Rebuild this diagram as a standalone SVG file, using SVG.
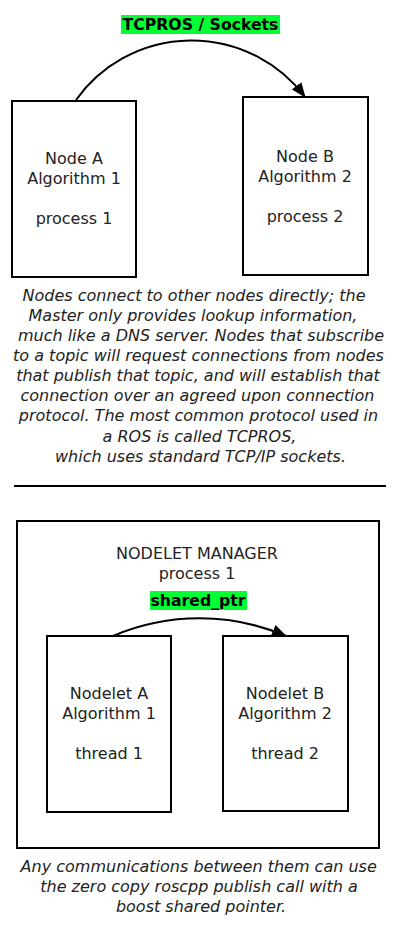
<svg xmlns="http://www.w3.org/2000/svg" width="407" height="934" viewBox="0 0 407 934">
<style>
.box{fill:#fff;stroke:#000;stroke-width:2}
.t{font-family:"DejaVu Sans",sans-serif;font-size:16px;fill:#222;text-anchor:middle}
.i{font-family:"DejaVu Sans",sans-serif;font-size:16px;font-style:italic;fill:#222;text-anchor:middle}
.b{font-family:"DejaVu Sans",sans-serif;font-size:15.7px;font-weight:bold;fill:#000;text-anchor:middle}
.lbl{fill:#00ff33}
.edge{fill:none;stroke:#000;stroke-width:2}
</style>
<defs>
<marker id="ah" markerUnits="userSpaceOnUse" markerWidth="16" markerHeight="12" refX="14" refY="6" orient="auto">
<path d="M0,0 L15,6 L0,12 z" fill="#000"/>
</marker>
</defs>
<rect width="407" height="934" fill="#fff"/>

<g id="nodeA">
<rect class="box" x="12" y="101" width="124" height="176"/>
<text class="t" x="74" y="164">Node A</text>
<text class="t" x="74" y="184">Algorithm 1</text>
<text class="t" x="74" y="224">process 1</text>
</g>
<g id="nodeB">
<rect class="box" x="243" y="97" width="125" height="178"/>
<text class="t" x="305" y="162">Node B</text>
<text class="t" x="305" y="182">Algorithm 2</text>
<text class="t" x="305" y="222">process 2</text>
</g>

<g id="desc1">
<text class="i" x="194" y="301">Nodes connect to other nodes directly; the</text>
<text class="i" x="193" y="321">Master only provides lookup information,</text>
<text class="i" x="201" y="341">much like a DNS server. Nodes that subscribe</text>
<text class="i" x="198.5" y="361">to a topic will request connections from nodes</text>
<text class="i" x="198" y="381">that publish that topic, and will establish that</text>
<text class="i" x="197.5" y="401">connection over an agreed upon connection</text>
<text class="i" x="198.5" y="421">protocol. The most common protocol used in</text>
<text class="i" x="199.5" y="442">a ROS is called TCPROS,</text>
<text class="i" x="200.5" y="462">which uses standard TCP/IP sockets.</text>
</g>

<line x1="14" y1="486" x2="386" y2="486" stroke="#000" stroke-width="2"/>

<g id="manager">
<rect class="box" x="17" y="521" width="362" height="327"/>
<text class="t" x="197" y="559">NODELET MANAGER</text>
<text class="t" x="197" y="579">process 1</text>
</g>
<g id="nodeletA">
<rect class="box" x="47" y="636" width="124" height="176"/>
<text class="t" x="109" y="699">Nodelet A</text>
<text class="t" x="109" y="719">Algorithm 1</text>
<text class="t" x="109" y="759">thread 1</text>
</g>
<g id="nodeletB">
<rect class="box" x="223" y="636" width="125" height="175"/>
<text class="t" x="285" y="699">Nodelet B</text>
<text class="t" x="285" y="719">Algorithm 2</text>
<text class="t" x="285" y="759">thread 2</text>
</g>

<g id="connectors">
<path class="edge" d="M76,100 A142,142 0 0 1 305,97" marker-end="url(#ah)"/>
<rect class="lbl" x="121" y="15" width="159" height="19"/>
<text class="b" x="200.5" y="30">TCPROS / Sockets</text>
<path class="edge" d="M113,636 A220,220 0 0 1 286,636" marker-end="url(#ah)"/>
<rect class="lbl" x="150" y="591" width="97" height="19"/>
<text class="b" x="198" y="606">shared_ptr</text>
</g>

<g id="desc2">
<text class="i" x="198.7" y="872">Any communications between them can use</text>
<text class="i" x="199" y="892">the zero copy roscpp publish call with a</text>
<text class="i" x="201" y="912">boost shared pointer.</text>
</g>
</svg>
